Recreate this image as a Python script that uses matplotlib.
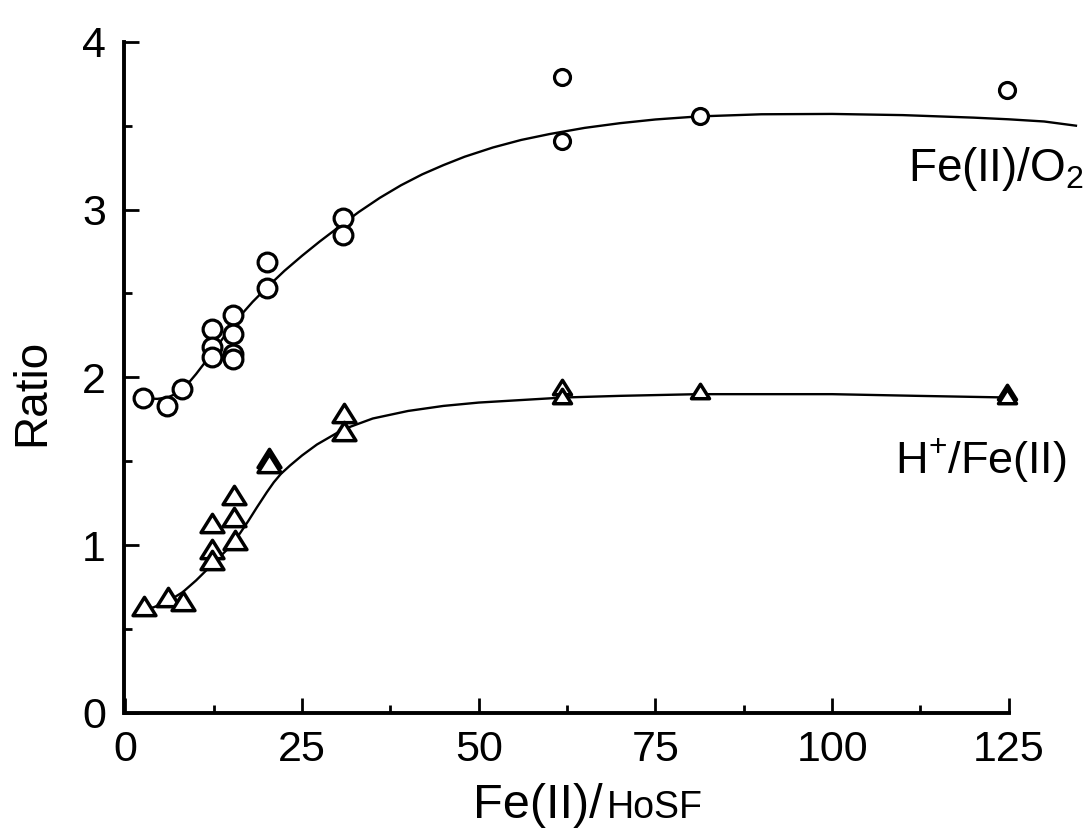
import numpy as np
import matplotlib
matplotlib.use("Agg")
import matplotlib.pyplot as plt
from matplotlib.path import Path

plt.rcParams['font.family'] = ['Liberation Sans', 'DejaVu Sans']
plt.rcParams['mathtext.fontset'] = 'custom'
plt.rcParams['mathtext.rm'] = 'Liberation Sans'

# measured points, Fe(II)/O2 (circles)
fe_o2_x = [2.5, 5.9, 8.0, 12.2, 12.2, 12.2, 15.2, 15.2, 15.2, 15.2, 20.1, 20.1,
           30.8, 30.8, 61.8, 61.8, 81.3, 124.7]
fe_o2_y = [1.88, 1.83, 1.93, 2.29, 2.18, 2.12, 2.37, 2.26, 2.14, 2.11, 2.69, 2.53,
           2.95, 2.85, 3.79, 3.41, 3.56, 3.71]

# measured points, H+/Fe(II) (triangles)
h_fe_x = [2.7, 6.0, 8.2, 12.3, 12.3, 12.3, 15.4, 15.4, 15.5, 20.3, 20.3,
          31.0, 31.0, 61.8, 61.8, 81.3, 124.7, 124.7]
h_fe_y = [0.64, 0.69, 0.67, 1.13, 0.98, 0.91, 1.30, 1.17, 1.03, 1.52, 1.49,
          1.79, 1.68, 1.94, 1.89, 1.92, 1.91, 1.89]

# fitted curves
fit_o2_x = [1.5, 3, 4.5, 6, 7, 8, 9, 10, 11, 12, 14, 16, 18, 20, 22.5, 25, 27.5,
            30, 33, 36, 39, 42, 45, 48, 52, 56, 60, 65, 70, 75, 81, 90, 100, 110,
            120, 125, 130, 134.5]
fit_o2_y = [1.88, 1.875, 1.872, 1.88, 1.90, 1.93, 1.97, 2.02, 2.075, 2.13, 2.245,
            2.355, 2.45, 2.535, 2.635, 2.725, 2.81, 2.89, 2.985, 3.07, 3.145, 3.21,
            3.265, 3.315, 3.37, 3.415, 3.45, 3.487, 3.515, 3.537, 3.555, 3.568,
            3.57, 3.563, 3.548, 3.538, 3.525, 3.50]

fit_h_x = [1.6, 4, 6, 8.1, 10, 12.4, 14.3, 16.2, 17.4, 18.6, 20, 21, 22, 23.3, 25,
           27.1, 30.8, 35, 40, 45, 50, 56, 62, 70, 81, 100, 112, 125]
fit_h_y = [0.61, 0.63, 0.665, 0.72, 0.79, 0.89, 0.97, 1.07, 1.145, 1.225, 1.315,
           1.375, 1.425, 1.475, 1.535, 1.60, 1.69, 1.755, 1.80, 1.83, 1.85, 1.865,
           1.88, 1.89, 1.90, 1.90, 1.89, 1.88]

tri = Path([(0, 0.8), (-1, -0.8), (1, -0.8), (0, 0.8)],
           [Path.MOVETO, Path.LINETO, Path.LINETO, Path.CLOSEPOLY])

fig = plt.figure(figsize=(10.86, 8.4), dpi=100)
ax = fig.add_axes([124 / 1086, 1 - 713 / 840, 959 / 1086, 688 / 840])

ax.plot(fit_o2_x, fit_o2_y, color='black', lw=1.7, clip_on=False, zorder=2)
ax.plot(fit_h_x, fit_h_y, color='black', lw=1.7, clip_on=False, zorder=2)

ox = np.array(fe_o2_x)
oy = np.array(fe_o2_y)
hx = np.array(h_fe_x)
hy = np.array(h_fe_y)
left = ox < 50
ax.plot(ox[left], oy[left], 'o', ms=13.5, mfc='white', mec='black', mew=2.3, zorder=3)
ax.plot(ox[~left], oy[~left], 'o', ms=11.5, mfc='white', mec='black', mew=2.3, zorder=3)
left = hx < 50
ax.plot(hx[left], hy[left], ls='none', marker=tri, ms=16.5, mfc='white', mec='black', mew=2.5, zorder=3)
ax.plot(hx[~left], hy[~left], ls='none', marker=tri, ms=13, mfc='white', mec='black', mew=2.5, zorder=3)

ax.set_xlim(-0.2, 135.5)
ax.set_ylim(0, 4.1)
ax.spines['top'].set_visible(False)
ax.spines['right'].set_visible(False)
ax.spines['left'].set_bounds(0, 4)
ax.spines['bottom'].set_bounds(0, 125)
ax.spines['left'].set_position(('data', -0.2))
for s in ['left', 'bottom']:
    ax.spines[s].set_linewidth(2.8)

ax.set_xticks([0, 25, 50, 75, 100, 125])
ax.set_xticks(np.arange(12.5, 125, 25), minor=True)
ax.set_yticks([0, 1, 2, 3, 4])
ax.set_yticks([0.5, 1.5, 2.5, 3.5], minor=True)
ax.tick_params(which='major', direction='in', length=11, width=2, labelsize=31)
ax.tick_params(which='minor', direction='in', length=6, width=2)
ax.tick_params(axis='x', which='major', pad=12)
ax.tick_params(axis='y', which='major', pad=13)

fig.text(32 / 1086, 1 - 392 / 840, 'Ratio', rotation=90, fontsize=33,
         ha='center', va='center')
fig.text(473 / 1086, 1 - 818 / 840, 'Fe(II)/', fontsize=35, ha='left', va='baseline')
fig.text(607 / 1086, 1 - 818 / 840, 'HoSF', fontsize=27, ha='left', va='baseline')

fig.text(1084 / 1086, 1 - 181 / 840, r'Fe(II)/O$_\mathregular{2}$', fontsize=33,
         ha='right', va='baseline')
fig.text(1066 / 1086, 1 - 473 / 840, r'H$^\mathregular{+}$/Fe(II)', fontsize=32.5,
         ha='right', va='baseline')

fig.savefig('out.png', dpi=100)
